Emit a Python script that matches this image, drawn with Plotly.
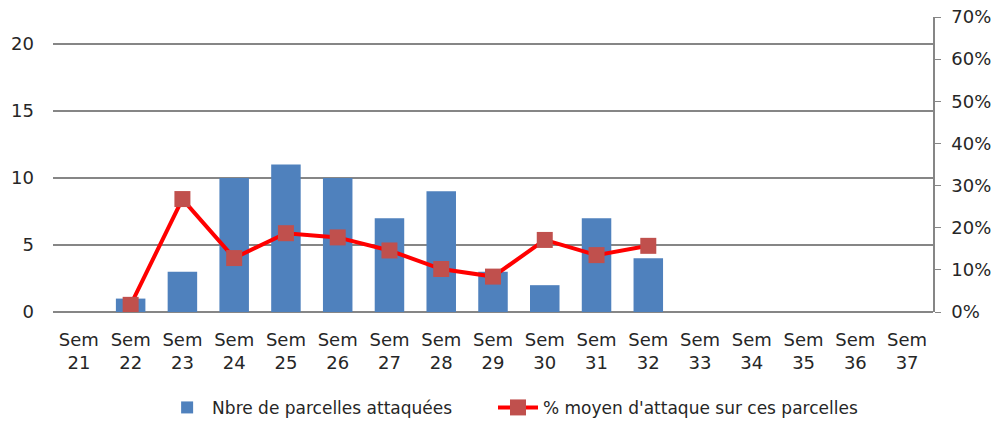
import plotly.graph_objects as go

weeks = [f"Sem<br>{w}" for w in range(21, 38)]
nb_parcelles = [None, 1, 3, 10, 11, 10, 7, 9, 3, 2, 7, 4, None, None, None, None, None]
pct_attaque = [None, 1.7, 26.8, 12.8, 18.7, 17.7, 14.6, 10.2, 8.4, 17.1, 13.5, 15.7, None, None, None, None, None]
pct_frac = [None if v is None else v / 100 for v in pct_attaque]
left_ticks = [0, 5, 10, 15, 20]
right_ticks = [0, 0.1, 0.2, 0.3, 0.4, 0.5, 0.6, 0.7]

FONT = "DejaVu Sans"
fig = go.Figure()
fig.add_trace(go.Bar(
    x=weeks, y=nb_parcelles, name="Nbre de parcelles attaquées",
    marker=dict(color="#4F81BD", line=dict(width=0)), yaxis="y", legend="legend",
))
fig.add_trace(go.Scatter(
    x=weeks, y=pct_frac, name="% moyen d'attaque sur ces parcelles",
    mode="lines+markers", yaxis="y2", legend="legend2",
    line=dict(color="#FF0000", width=4),
    marker=dict(symbol="square", size=16, color="#C0504D"),
))

fig.update_layout(
    width=997, height=421,
    margin=dict(l=53, r=64, t=17, b=109, autoexpand=False),
    paper_bgcolor="white", plot_bgcolor="white",
    font=dict(family=FONT, color="#262626", size=17),
    bargap=0.43,
    showlegend=True,
    legend=dict(orientation="h", x=0.124, xanchor="left", y=-0.325, yanchor="middle",
                font=dict(size=17, family=FONT), itemwidth=40, bgcolor="rgba(0,0,0,0)"),
    legend2=dict(orientation="h", x=0.5, xanchor="left", y=-0.325, yanchor="middle",
                 font=dict(size=17, family=FONT), itemwidth=40, bgcolor="rgba(0,0,0,0)"),
    xaxis=dict(type="category", categoryorder="array", categoryarray=weeks,
               range=[-0.5, len(weeks) - 0.5], autorange=False,
               showgrid=False, showline=False, ticks="", tickfont=dict(size=18),
               ticklabelstandoff=15, automargin=False),
    yaxis=dict(range=[0, 22], tickvals=left_ticks, showgrid=True,
               gridcolor="#868686", gridwidth=1.5, zeroline=True, zerolinecolor="#868686",
               zerolinewidth=1.5, showline=False, ticks="", tickfont=dict(size=18),
               ticklabelstandoff=18, automargin=False),
    yaxis2=dict(range=[0, 0.70], tickvals=right_ticks, tickformat=".0%", overlaying="y", side="right",
                showgrid=False, zeroline=False, showline=True, linecolor="#868686", linewidth=1.5,
                ticks="outside", ticklen=6, tickcolor="#868686", tickfont=dict(size=18),
                ticklabelstandoff=7, automargin=False),
)

# remove the browser's default 8px page margin so the figure fills the 997x421 window
fig.write_html("out.html", config={"displayModeBar": False},
               post_script="document.body.style.margin='0px';")
